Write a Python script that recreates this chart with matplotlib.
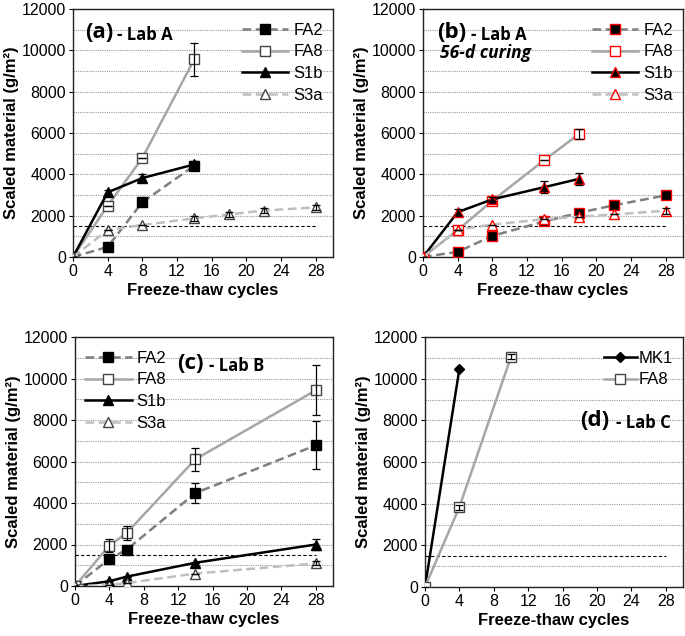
import matplotlib
matplotlib.use("Agg")
import matplotlib.pyplot as plt
import numpy as np

plt.rcParams['font.family'] = ['Liberation Sans', 'DejaVu Sans']

# ---------------- data ----------------
# Panel (a) Lab A
a_fa2_x = [0, 4, 8, 14];            a_fa2_y = [0, 490, 2650, 4420];   a_fa2_e = [0, 0, 0, 120]
a_fa8_x = [0, 4, 8, 14];            a_fa8_y = [0, 2480, 4790, 9570];  a_fa8_e = [0, 0, 0, 800]
a_s1b_x = [0, 4, 8, 14];            a_s1b_y = [0, 3130, 3820, 4480];  a_s1b_e = [0, 120, 180, 150]
a_s3a_x = [0, 4, 8, 14, 18, 22, 28]; a_s3a_y = [0, 1300, 1550, 1870, 2060, 2250, 2400]
a_s3a_e = [0, 0, 0, 120, 120, 120, 120]

# Panel (b) Lab A, 56-d curing
b_fa2_x = [0, 4, 8, 14, 18, 22, 28]; b_fa2_y = [0, 250, 1020, 1720, 2140, 2500, 2980]
b_fa8_x = [0, 4, 8, 14, 18];         b_fa8_y = [0, 1300, 2720, 4690, 5950]; b_fa8_e = [0, 0, 0, 0, 250]
b_s1b_x = [0, 4, 8, 14, 18];         b_s1b_y = [0, 2170, 2790, 3380, 3780]; b_s1b_e = [0, 150, 100, 280, 300]
b_s3a_x = [0, 4, 8, 14, 18, 22, 28]; b_s3a_y = [0, 1320, 1570, 1830, 1950, 2060, 2240]
b_s3a_e = [0, 0, 0, 0, 0, 0, 150]

# Panel (c) Lab B
c_fa2_x = [0, 4, 6, 14, 28]; c_fa2_y = [0, 1300, 1750, 4480, 6780]; c_fa2_e = [0, 0, 0, 500, 1150]
c_fa8_x = [0, 4, 6, 14, 28]; c_fa8_y = [0, 1950, 2550, 6110, 9430]; c_fa8_e = [0, 300, 350, 550, 1200]
c_s1b_x = [0, 4, 6, 14, 28]; c_s1b_y = [0, 230, 450, 1120, 2000];   c_s1b_e = [0, 0, 0, 0, 250]
c_s3a_x = [0, 4, 6, 14, 28]; c_s3a_y = [0, 50, 140, 600, 1090];     c_s3a_e = [0, 0, 0, 0, 100]

# Panel (d) Lab C
d_mk1_x = [0, 4];     d_mk1_y = [0, 10470]
d_fa8_x = [0, 4, 10]; d_fa8_y = [0, 3840, 11050]; d_fa8_e = [0, 120, 120]

xticks = [0, 4, 8, 12, 16, 20, 24, 28]
yticks = [0, 2000, 4000, 6000, 8000, 10000, 12000]
limit_value = 1500

# ---------------- styles ----------------
C_FA2 = '#7f7f7f'
C_FA8 = '#a6a6a6'
C_S1B = '#000000'
C_S3A = '#bfbfbf'
TITLE_FONT = ['Open Sans', 'DejaVu Sans']
LW = 1.8

fig = plt.figure(figsize=(6.85, 6.36), dpi=100)

W = 260 / 685
axa = fig.add_axes([73 / 685, 1 - 257 / 636, W, 248 / 636])
axb = fig.add_axes([423 / 685, 1 - 257 / 636, W, 248 / 636])
axc = fig.add_axes([75 / 685, 1 - 586 / 636, 258 / 685, 249 / 636])
axd = fig.add_axes([425 / 685, 1 - 587 / 636, 258 / 685, 250 / 636])


def style_axis(ax):
    ax.set_xlim(0, 30)
    ax.set_ylim(0, 12000)
    ax.set_xticks(xticks)
    ax.set_yticks(yticks)
    ax.set_yticks(np.arange(1000, 12000, 2000), minor=True)
    ax.tick_params(axis='both', which='major', labelsize=11.5, direction='out', length=3,
                   width=0.8, pad=2)
    ax.tick_params(axis='y', which='minor', length=0)
    ax.grid(True, axis='y', which='both', linestyle=(0, (1, 1)), color='#9a9a9a', linewidth=0.8)
    ax.set_axisbelow(True)
    for s in ax.spines.values():
        s.set_linewidth(1.0)
        s.set_color('#222222')
    ax.set_xlabel('Freeze-thaw cycles', fontsize=12, fontweight='bold', labelpad=3)
    ax.set_ylabel('Scaled material (g/m²)', fontsize=12, fontweight='bold', labelpad=2)
    ax.hlines(limit_value, 0, 28, colors='black', linestyles=(0, (3, 2)), linewidth=0.8, zorder=2)


def series(ax, x, y, e, color, ls, marker, mfc, mec, ms, label):
    ax.plot(x, y, linestyle=ls, color=color, linewidth=LW, marker=marker,
            markerfacecolor=mfc, markeredgecolor=mec, markersize=ms,
            markeredgewidth=1.0, label=label, zorder=3)
    if e is not None:
        ax.errorbar(x, y, yerr=e, fmt='none', ecolor='black', elinewidth=0.9,
                    capsize=3, capthick=0.9, zorder=4)


def add_legend(ax, loc, bbox):
    return ax.legend(loc=loc, bbox_to_anchor=bbox, frameon=False, fontsize=12,
                     handlelength=2.8, handletextpad=0.3, labelspacing=0.4,
                     borderaxespad=0.2)


def panel_title(ax, letter, lab, x, y, gap):
    ax.text(x, y, letter, transform=ax.transAxes, fontsize=16, fontweight='bold',
            family=TITLE_FONT, va='center')
    ax.text(x + gap, y - 0.008, lab, transform=ax.transAxes, fontsize=12, fontweight='bold',
            family=TITLE_FONT, va='center')

DASH = (0, (3.5, 1.8))

# ----- (a)
style_axis(axa)
series(axa, a_fa2_x, a_fa2_y, a_fa2_e, C_FA2, DASH, 's', 'black', 'black', 7, 'FA2')
series(axa, a_fa8_x, a_fa8_y, a_fa8_e, C_FA8, '-', 's', 'white', '#444444', 7, 'FA8')
series(axa, a_s1b_x, a_s1b_y, a_s1b_e, C_S1B, '-', '^', 'black', 'black', 6.5, 'S1b')
series(axa, a_s3a_x, a_s3a_y, a_s3a_e, C_S3A, DASH, '^', 'white', '#444444', 6.5, 'S3a')
add_legend(axa, 'upper right', (1.0, 0.985))
panel_title(axa, '(a)', '- Lab A', 0.045, 0.905, 0.125)

# ----- (b)
RED = '#ff0000'
style_axis(axb)
series(axb, b_fa2_x, b_fa2_y, None, C_FA2, DASH, 's', 'black', RED, 7, 'FA2')
series(axb, b_fa8_x, b_fa8_y, b_fa8_e, C_FA8, '-', 's', 'white', RED, 7, 'FA8')
series(axb, b_s1b_x, b_s1b_y, b_s1b_e, C_S1B, '-', '^', 'black', RED, 6.5, 'S1b')
series(axb, b_s3a_x, b_s3a_y, b_s3a_e, C_S3A, DASH, '^', 'white', RED, 6.5, 'S3a')
add_legend(axb, 'upper right', (1.0, 0.985))
panel_title(axb, '(b)', '- Lab A', 0.055, 0.905, 0.13)
axb.text(0.065, 0.823, '56-d curing', transform=axb.transAxes, fontsize=12.5, fontweight='bold',
         fontstyle='italic', family=TITLE_FONT, va='center')

# ----- (c)
style_axis(axc)
series(axc, c_fa2_x, c_fa2_y, c_fa2_e, C_FA2, DASH, 's', 'black', 'black', 7, 'FA2')
series(axc, c_fa8_x, c_fa8_y, c_fa8_e, C_FA8, '-', 's', 'white', '#444444', 7, 'FA8')
series(axc, c_s1b_x, c_s1b_y, c_s1b_e, C_S1B, '-', '^', 'black', 'black', 6.5, 'S1b')
series(axc, c_s3a_x, c_s3a_y, c_s3a_e, C_S3A, DASH, '^', 'white', '#444444', 6.5, 'S3a')
add_legend(axc, 'upper left', (0.0, 0.985))
panel_title(axc, '(c)', '- Lab B', 0.395, 0.893, 0.125)

# ----- (d)
style_axis(axd)
series(axd, d_mk1_x, d_mk1_y, None, C_S1B, '-', 'D', 'black', 'black', 5, 'MK1')
series(axd, d_fa8_x, d_fa8_y, d_fa8_e, C_FA8, '-', 's', 'white', '#444444', 7, 'FA8')
axd.legend(loc='upper right', bbox_to_anchor=(1.0, 0.985), frameon=False, fontsize=12,
           handlelength=2.0, handletextpad=0.1, labelspacing=0.4, borderaxespad=0.2)
panel_title(axd, '(d)', '- Lab C', 0.60, 0.665, 0.14)

fig.savefig('out.png', dpi=100)
